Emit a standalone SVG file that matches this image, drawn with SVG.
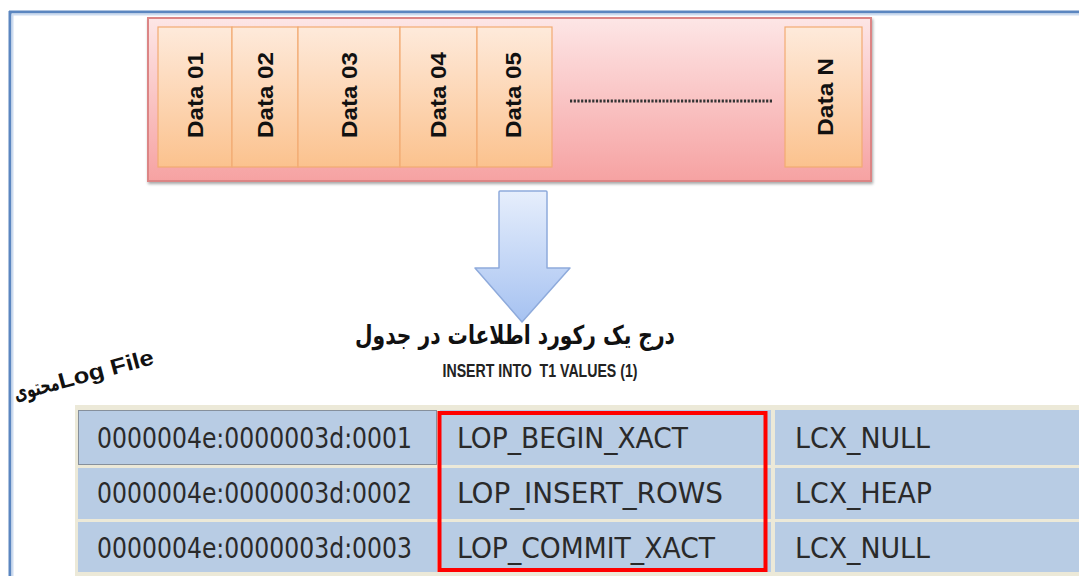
<svg xmlns="http://www.w3.org/2000/svg" width="1079" height="576" viewBox="0 0 1079 576">
  <defs>
    <linearGradient id="gPink" x1="0" y1="0" x2="0" y2="1">
      <stop offset="0" stop-color="#fde6e6"/>
      <stop offset="1" stop-color="#f6a2a2"/>
    </linearGradient>
    <linearGradient id="gCell" x1="0" y1="0" x2="0" y2="1">
      <stop offset="0" stop-color="#feeadb"/>
      <stop offset="1" stop-color="#fbc28e"/>
    </linearGradient>
    <linearGradient id="gArrow" x1="0" y1="0" x2="0" y2="1">
      <stop offset="0" stop-color="#e6eefc"/>
      <stop offset="1" stop-color="#a6c2f1"/>
    </linearGradient>
    <filter id="shadow" x="-5%" y="-5%" width="110%" height="115%">
      <feGaussianBlur in="SourceAlpha" stdDeviation="1.5"/>
      <feOffset dx="1" dy="2" result="b"/>
      <feComponentTransfer><feFuncA type="linear" slope="0.35"/></feComponentTransfer>
      <feMerge><feMergeNode/><feMergeNode in="SourceGraphic"/></feMerge>
    </filter>
  </defs>
  <style>
    .cell { fill: url(#gCell); stroke: #f2ab72; stroke-width: 1.2; }
    .cellText { font-family: "Liberation Sans", Arial, sans-serif; font-weight: bold; font-size: 22px; fill: #111; text-anchor: middle; dominant-baseline: central; }
    .grid { fill: #b8cce4; }
    .gridText { font-family: "DejaVu Sans", Tahoma, sans-serif; font-size: 28px; fill: #2a2a2a; }
  </style>

  <rect width="1079" height="576" fill="#ffffff"/>

  <!-- window frame -->
  <g id="frame">
    <line x1="9" y1="12" x2="1079" y2="12" stroke="#5b86c0" stroke-width="3"/>
    <line x1="11" y1="14.5" x2="1079" y2="14.5" stroke="#cddcf0" stroke-width="2"/>
    <line x1="10" y1="11" x2="10" y2="576" stroke="#5b86c0" stroke-width="3"/>
    <line x1="12.5" y1="14" x2="12.5" y2="576" stroke="#cddcf0" stroke-width="2"/>
  </g>

  <!-- data page -->
  <g id="page">
    <rect x="148" y="18" width="723" height="163" fill="url(#gPink)" stroke="#dc8585" stroke-width="2" filter="url(#shadow)"/>
  </g>
  <g id="data01">
    <rect class="cell" x="158" y="27" width="74" height="140"/>
    <text class="cellText" transform="translate(195,95) rotate(-90)" textLength="86" lengthAdjust="spacingAndGlyphs">Data 01</text>
  </g>
  <g id="data02">
    <rect class="cell" x="232" y="27" width="66" height="140"/>
    <text class="cellText" transform="translate(265,95) rotate(-90)" textLength="86" lengthAdjust="spacingAndGlyphs">Data 02</text>
  </g>
  <g id="data03">
    <rect class="cell" x="298" y="27" width="102" height="140"/>
    <text class="cellText" transform="translate(349,95) rotate(-90)" textLength="86" lengthAdjust="spacingAndGlyphs">Data 03</text>
  </g>
  <g id="data04">
    <rect class="cell" x="400" y="27" width="77" height="140"/>
    <text class="cellText" transform="translate(438,95) rotate(-90)" textLength="86" lengthAdjust="spacingAndGlyphs">Data 04</text>
  </g>
  <g id="data05">
    <rect class="cell" x="477" y="27" width="75" height="140"/>
    <text class="cellText" transform="translate(513,95) rotate(-90)" textLength="86" lengthAdjust="spacingAndGlyphs">Data 05</text>
  </g>
  <g id="ellipsis">
    <line x1="570" y1="101" x2="772" y2="101" stroke="#333" stroke-width="3" stroke-dasharray="2.2 1.5"/>
  </g>
  <g id="dataN">
    <rect class="cell" x="785" y="27" width="77" height="140"/>
    <text class="cellText" transform="translate(825,97) rotate(-90)" textLength="78" lengthAdjust="spacingAndGlyphs">Data N</text>
  </g>

  <!-- insert arrow -->
  <g id="connectors">
    <path d="M499,192 Q499,191 500,191 L546,191 Q547,191 547,192 L547,268 L570,268 L522,322 L475,268 L499,268 Z" fill="url(#gArrow)" stroke="#8eaadb" stroke-width="1.5" stroke-linejoin="round"/>
  </g>

  <!-- operation caption -->
  <g id="caption">
    <text x="515" y="344" font-family="'DejaVu Sans', sans-serif" font-weight="bold" font-size="26" fill="#111" text-anchor="middle" direction="rtl" textLength="320" lengthAdjust="spacingAndGlyphs">درج یک رکورد اطلاعات در جدول</text>
    <text x="540" y="377" font-family="'Liberation Sans', Arial, sans-serif" font-weight="bold" font-size="19" fill="#222" text-anchor="middle" textLength="195" lengthAdjust="spacingAndGlyphs" xml:space="preserve">INSERT INTO  T1 VALUES (1)</text>
  </g>

  <!-- log file label -->
  <g id="logLabel" transform="translate(16,401) rotate(-15)">
    <text x="0" y="0" font-family="'DejaVu Sans', sans-serif" font-weight="bold" font-size="22" fill="#111" textLength="46" lengthAdjust="spacingAndGlyphs">محتوی</text>
    <text x="46" y="0" font-family="'Liberation Sans', Arial, sans-serif" font-weight="bold" font-size="22" fill="#111" textLength="98" lengthAdjust="spacingAndGlyphs">Log File</text>
  </g>

  <!-- log records grid -->
  <g id="logTable">
    <rect x="75" y="405" width="1004" height="171" fill="#ece9d8"/>
    <rect class="grid" x="78" y="410" width="359" height="55"/>
    <rect class="grid" x="440" y="410" width="331" height="55"/>
    <rect class="grid" x="775" y="410" width="304" height="55"/>
    <rect class="grid" x="78" y="468" width="359" height="51"/>
    <rect class="grid" x="440" y="468" width="331" height="51"/>
    <rect class="grid" x="775" y="468" width="304" height="51"/>
    <rect class="grid" x="78" y="522" width="359" height="50"/>
    <rect class="grid" x="440" y="522" width="331" height="50"/>
    <rect class="grid" x="775" y="522" width="304" height="50"/>
    <rect x="78.5" y="410.5" width="358" height="54" fill="none" stroke="#555" stroke-width="1" stroke-dasharray="1 1"/>
  </g>
  <g id="row1">
    <text class="gridText" x="97" y="448" textLength="315" lengthAdjust="spacingAndGlyphs">0000004e:0000003d:0001</text>
    <text class="gridText" x="457" y="448" textLength="231" lengthAdjust="spacingAndGlyphs">LOP_BEGIN_XACT</text>
    <text class="gridText" x="795" y="448" textLength="135" lengthAdjust="spacingAndGlyphs">LCX_NULL</text>
  </g>
  <g id="row2">
    <text class="gridText" x="97" y="503" textLength="315" lengthAdjust="spacingAndGlyphs">0000004e:0000003d:0002</text>
    <text class="gridText" x="457" y="503" textLength="266" lengthAdjust="spacingAndGlyphs">LOP_INSERT_ROWS</text>
    <text class="gridText" x="795" y="503" textLength="137" lengthAdjust="spacingAndGlyphs">LCX_HEAP</text>
  </g>
  <g id="row3">
    <text class="gridText" x="97" y="558" textLength="315" lengthAdjust="spacingAndGlyphs">0000004e:0000003d:0003</text>
    <text class="gridText" x="457" y="558" textLength="258" lengthAdjust="spacingAndGlyphs">LOP_COMMIT_XACT</text>
    <text class="gridText" x="795" y="558" textLength="135" lengthAdjust="spacingAndGlyphs">LCX_NULL</text>
  </g>
  <g id="highlight">
    <rect x="439.5" y="413" width="326" height="157" fill="none" stroke="#ff0000" stroke-width="4"/>
  </g>
</svg>
